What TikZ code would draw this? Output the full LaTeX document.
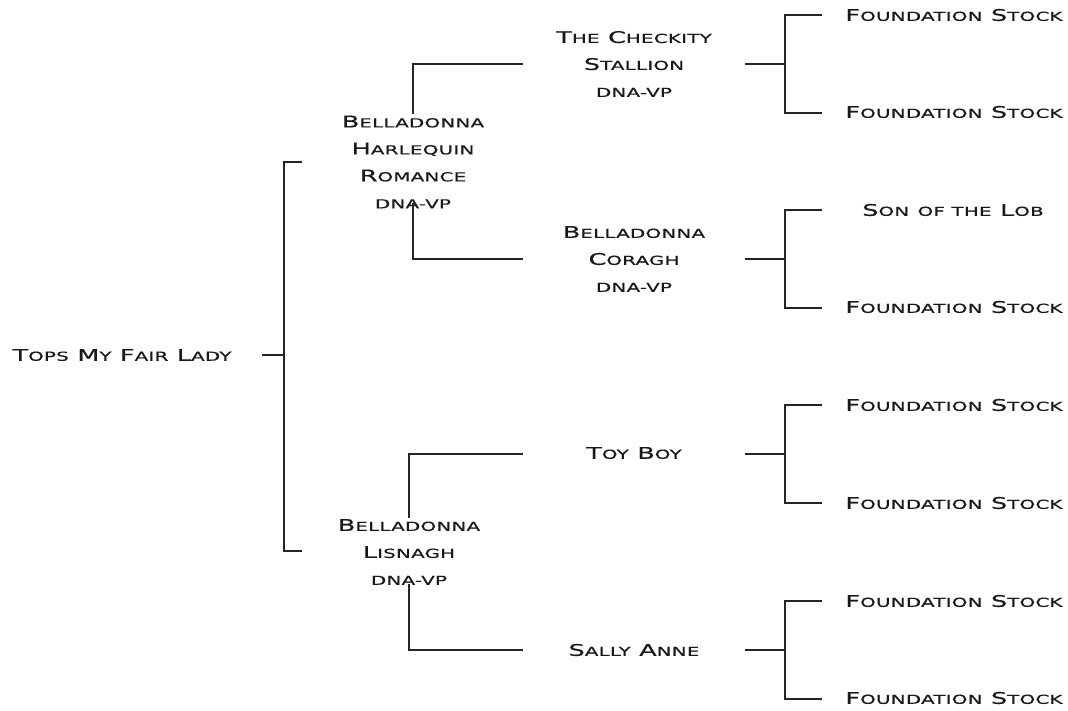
\documentclass[tikz,border=0pt]{standalone}
\usepackage{fontspec}
\setmainfont[FakeStretch=1.6,LetterSpace=2,FakeBold=0.5]{DejaVu Sans}
\newcommand\w[2]{{\fontsize{16}{27}\selectfont #1}{\fontsize{12.4}{27}\selectfont #2}}
\newcommand\lw[1]{{\fontsize{12.4}{27}\selectfont #1}}
\begin{document}
\begin{tikzpicture}[x=1pt,y=-1pt,
  lbl/.style={inner sep=1pt,align=center,font=\fontsize{16}{27}\selectfont,text=black!90},
  conn/.style={draw=black!85,line width=1.1pt}]
\useasboundingbox (0,0) rectangle (1068,710);
% nodes
\node[lbl] (root) at (122,355) {\w{T}{OPS} \w{M}{Y} \w{F}{AIR} \w{L}{ADY}};
\node[lbl] (hr) at (413,162) {\w{B}{ELLADONNA}\\\w{H}{ARLEQUIN}\\\w{R}{OMANCE}\\\lw{DNA-VP}};
\node[lbl] (li) at (409,552) {\w{B}{ELLADONNA}\\\w{L}{ISNAGH}\\\lw{DNA-VP}};
\node[lbl] (cs) at (634,64) {\w{T}{HE} \w{C}{HECKITY}\\\w{S}{TALLION}\\\lw{DNA-VP}};
\node[lbl] (co) at (634,259) {\w{B}{ELLADONNA}\\\w{C}{ORAGH}\\\lw{DNA-VP}};
\node[lbl] (tb) at (634,453) {\w{T}{OY} \w{B}{OY}};
\node[lbl] (sa) at (634,650) {\w{S}{ALLY} \w{A}{NNE}};
\node[lbl] (g1) at (954,15) {\w{F}{OUNDATION} \w{S}{TOCK}};
\node[lbl] (g2) at (954,112) {\w{F}{OUNDATION} \w{S}{TOCK}};
\node[lbl] (g3) at (953,210) {\w{S}{ON} \lw{OF THE} \w{L}{OB}};
\node[lbl] (g4) at (954,307) {\w{F}{OUNDATION} \w{S}{TOCK}};
\node[lbl] (g5) at (954,405) {\w{F}{OUNDATION} \w{S}{TOCK}};
\node[lbl] (g6) at (954,503) {\w{F}{OUNDATION} \w{S}{TOCK}};
\node[lbl] (g7) at (954,601) {\w{F}{OUNDATION} \w{S}{TOCK}};
\node[lbl] (g8) at (954,698) {\w{F}{OUNDATION} \w{S}{TOCK}};
% root bracket
\coordinate (r0) at (262,355);
\coordinate (r1) at (284,355);
\coordinate (rt) at (302,162);
\coordinate (rb) at (302,551);
\draw[conn] (r0) -- (r1);
\draw[conn] (rt) -| (r1) |- (rb);
% generation 1 brackets
\coordinate (cs0) at (523,64);
\coordinate (co0) at (523,259);
\coordinate (tb0) at (523,454);
\coordinate (sa0) at (523,650);
\draw[conn] (hr.north) |- (cs0);
\draw[conn] ([yshift=7pt]hr.south) |- (co0);
\draw[conn] (li.north) |- (tb0);
\draw[conn] ([yshift=2pt]li.south) |- (sa0);
% generation 2 brackets
\foreach \n/\y in {cs/64,co/259,tb/454,sa/650}{
  \coordinate (\n a) at (745,\y);
  \coordinate (\n b) at (785,\y);
  \coordinate (\n t) at (822,\y-49);
  \coordinate (\n d) at (822,\y+49);
  \draw[conn] (\n a) -- (\n b);
  \draw[conn] (\n t) -| (\n b) |- (\n d);
}
\end{tikzpicture}
\end{document}
